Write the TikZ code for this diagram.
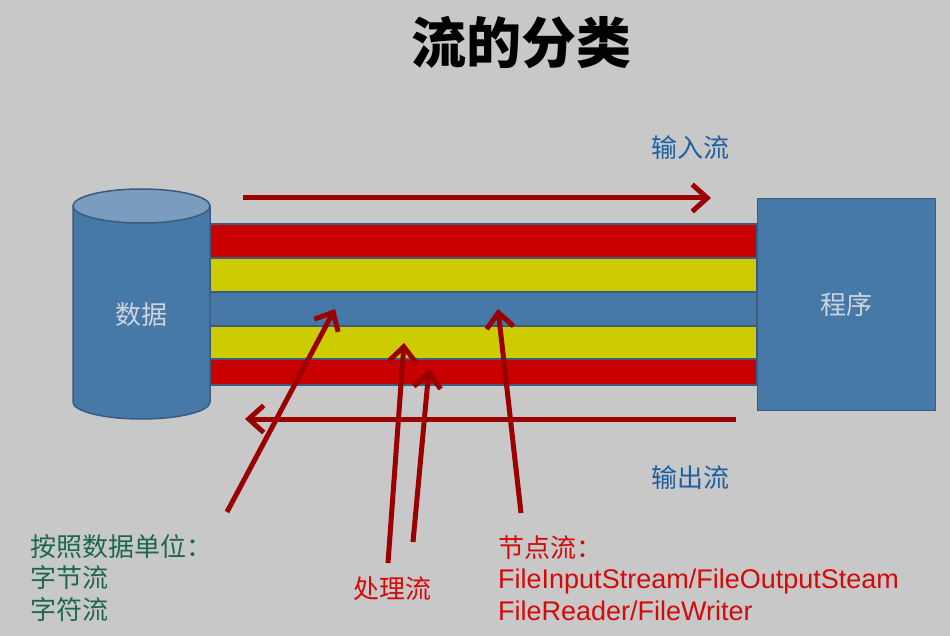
\documentclass[tikz,border=0pt]{standalone}
\usepackage{fontspec}
\setmainfont{Liberation Sans}
\newfontfamily\cjk{Noto Sans CJK SC}
\usetikzlibrary{arrows.meta}

\definecolor{bgGray}{RGB}{200,200,200}
\definecolor{pipeBlue}{RGB}{70,121,168}
\definecolor{topBlue}{RGB}{122,157,191}
\definecolor{edgeBlue}{RGB}{58,92,128}
\definecolor{layerRed}{RGB}{200,0,0}
\definecolor{layerYellow}{RGB}{204,204,0}
\definecolor{arrowRed}{RGB}{155,0,0}
\definecolor{textBlue}{RGB}{31,96,160}
\definecolor{textGreen}{RGB}{28,104,76}
\definecolor{textRed}{RGB}{210,10,10}
\definecolor{lightTxt}{RGB}{205,212,222}

\begin{document}
\begin{tikzpicture}[x=1pt, y=-1pt,
  flow/.style={line width=5pt, arrowRed, -{Straight Barb[length=15pt, width=27pt]}},
  layer/.style={draw=edgeBlue, line width=1.2pt},
  lbl/.style={font=\cjk\fontsize{26pt}{31.5pt}\selectfont, inner sep=0pt}]
  % Background and page size
  \fill[bgGray] (0,0) rectangle (950,636);
  \useasboundingbox (0,0) rectangle (950,636);

  % Title
  \node[font=\cjk\bfseries\fontsize{55pt}{60pt}\selectfont, inner sep=0pt] (title) at (521,43) {流的分类};

  % Layers of the pipe
  \filldraw[layer, fill=layerRed] (210,224) rectangle (757,258);
  \filldraw[layer, fill=layerYellow] (210,258) rectangle (757,292);
  \filldraw[layer, fill=pipeBlue] (210,292) rectangle (757,326);
  \filldraw[layer, fill=layerYellow] (210,326) rectangle (757,359);
  \filldraw[layer, fill=layerRed] (210,359) rectangle (757,385);

  % Data source (cylinder)
  \filldraw[fill=pipeBlue, draw=edgeBlue, line width=1.5pt] (73,206) -- (73,402)
    .. controls (73,411.4) and (103.7,419) .. (141.5,419)
    .. controls (179.3,419) and (210,411.4) .. (210,402) -- (210,206) -- cycle;
  \filldraw[fill=topBlue, draw=edgeBlue, line width=1.5pt] (141.5,206) ellipse [x radius=68.5pt, y radius=17pt];
  \node[lbl, text=lightTxt] (data) at (141,315) {数据};

  % Program box
  \node[draw=edgeBlue, line width=1.5pt, fill=pipeBlue, minimum width=178pt, minimum height=212pt,
    lbl, text=lightTxt] (prog) at (846.5,304.5) {程序};

  % Input and output streams
  \coordinate (inS) at (243,198);
  \coordinate (inE) at (711,198);
  \draw[flow] (inS) -- (inE);
  \node[lbl, text=textBlue] (inLbl) at (690,148) {输入流};

  \coordinate (outS) at (736,419);
  \coordinate (outE) at (245,419);
  \draw[flow] (outS) -- (outE);
  \node[lbl, text=textBlue] (outLbl) at (690,478) {输出流};

  % Labels below
  \node[lbl, anchor=west, align=left, text=textGreen] (unitLbl) at (30,578)
    {按照数据单位：\\字节流\\字符流};
  \node[lbl, text=textRed] (procLbl) at (392,589) {处理流};
  \node[anchor=west, align=left, inner sep=0pt, text=textRed,
    font=\fontsize{27pt}{31.5pt}\selectfont] (nodeLbl) at (498,578)
    {{\cjk\fontsize{26pt}{31.5pt}\selectfont 节点流：}\\FileInputStream/FileOutputSteam\\FileReader/FileWriter};

  % Pointers into the pipe
  \coordinate (unitS) at (227,512);
  \coordinate (unitE) at (335,309);
  \draw[flow] (unitS) -- (unitE);
  \coordinate (procAS) at (388,563);
  \coordinate (procAE) at (404,343);
  \draw[flow] (procAS) -- (procAE);
  \coordinate (procBS) at (413,542);
  \coordinate (procBE) at (429,369);
  \draw[flow] (procBS) -- (procBE);
  \coordinate (nodeS) at (521,513);
  \coordinate (nodeE) at (498,309);
  \draw[flow] (nodeS) -- (nodeE);
\end{tikzpicture}
\end{document}
